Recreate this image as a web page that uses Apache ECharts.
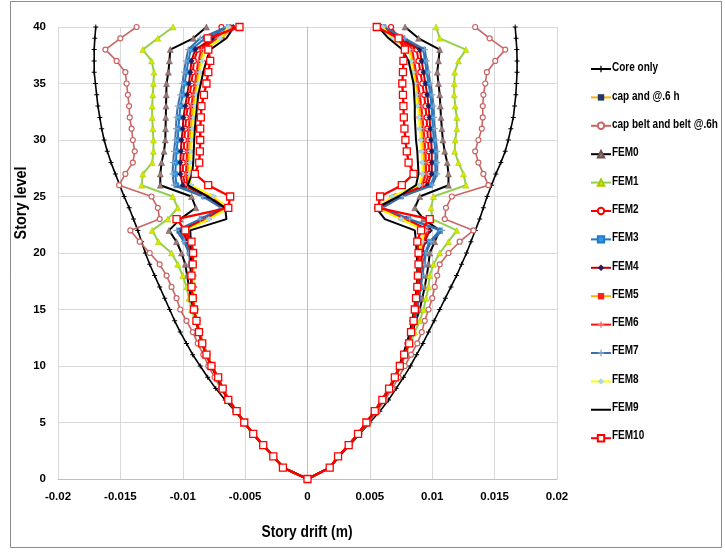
<!DOCTYPE html>
<html>
<head>
<meta charset="utf-8">
<script src="https://cdn.jsdelivr.net/npm/echarts@6/dist/echarts.min.js"></script>
<style>
  html, body { margin: 0; padding: 0; background: #fff; }
  #chart { width: 725px; height: 552px; }
</style>
</head>
<body>
<div id="chart"></div>
<script>
// Story levels 0..40
const levels = [0,1,2,3,4,5,6,7,8,9,10,11,12,13,14,15,16,17,18,19,20,21,22,23,24,25,26,27,28,29,30,31,32,33,34,35,36,37,38,39,40];
const xTicks = [-0.02,-0.015,-0.01,-0.005,0,0.005,0.01,0.015,0.02];
const yTicks = [0,5,10,15,20,25,30,35,40];

// Story drift magnitudes in mm (0.001 m), index = story level.
// "Neg" = drift toward negative side, "Pos" = drift toward positive side.
const coreOnlyNeg = [0,1.9,2.7,3.5,4.3,5.05,5.8,6.6,7.35,8.0,8.6,9.2,9.7,10.2,10.65,11.05,11.45,11.85,12.25,12.65,13.0,13.3,13.6,13.95,14.3,14.7,15.05,15.4,15.75,16.05,16.3,16.5,16.65,16.8,16.9,17.0,17.1,17.1,17.1,17.05,16.97];
const coreOnlyPos = [0,1.8,2.55,3.4,4.2,5.0,5.8,6.5,7.1,7.7,8.25,8.75,9.25,9.7,10.15,10.6,11.05,11.5,11.95,12.35,12.75,13.1,13.45,13.8,14.1,14.4,14.75,15.1,15.5,15.85,16.1,16.3,16.5,16.6,16.7,16.75,16.8,16.8,16.78,16.72,16.65];

const capAndNeg = [0,1.95,2.72,3.58,4.38,5.07,5.68,6.32,6.8,7.2,7.65,8.05,8.4,8.65,8.86,9.02,9.15,9.18,9.2,9.18,9.22,9.42,9.8,8.0,6.4,7.7,9.5,9.6,9.55,9.5,9.42,9.35,9.28,9.15,9.02,8.88,8.75,8.6,8.35,7.0,6.1];
const capAndPos = [0,1.78,2.48,3.3,4.05,4.72,5.39,6.0,6.54,7.0,7.4,7.74,8.03,8.26,8.44,8.6,8.72,8.82,8.87,8.95,9.05,9.25,9.5,7.6,5.65,6.9,9.1,9.4,9.38,9.32,9.25,9.18,9.1,9.0,8.88,8.75,8.6,8.45,8.3,7.0,6.0];

const capBeltNeg = [0,1.95,2.75,3.6,4.4,5.1,5.8,6.4,6.95,7.45,7.95,8.35,8.8,9.2,9.7,10.2,10.5,10.9,11.3,11.85,12.65,13.45,14.2,11.85,12.0,12.5,15.1,14.6,14.0,13.85,14.0,14.1,14.25,14.3,14.4,14.5,14.6,15.3,16.2,15.0,13.7];
const capBeltPos = [0,1.8,2.5,3.35,4.15,4.9,5.6,6.2,6.8,7.3,7.8,8.3,8.8,9.16,9.4,9.7,10.0,10.2,10.4,10.6,11.3,12.2,13.3,11.0,11.1,11.57,14.5,14.1,13.7,13.44,13.7,13.97,14.05,14.05,14.1,14.25,14.38,15.05,15.85,14.6,13.44];

const fem0Neg = [0,1.95,2.72,3.58,4.38,5.07,5.7,6.3,6.8,7.25,7.7,8.1,8.45,8.7,8.95,9.2,9.35,9.5,9.65,9.8,10.1,10.5,11.1,10.2,8.95,9.3,11.8,11.8,11.7,11.5,11.4,11.38,11.36,11.34,11.32,11.3,11.15,11.07,11.0,9.16,8.1];
const fem0Pos = [0,1.78,2.48,3.3,4.05,4.72,5.35,5.95,6.5,7.0,7.4,7.75,8.1,8.4,8.7,9.0,9.2,9.4,9.56,9.7,9.8,10.2,10.6,9.3,8.6,9.0,11.3,11.3,11.2,11.0,10.85,10.77,10.7,10.65,10.6,10.5,10.4,10.5,10.6,8.9,7.82];

const fem1Neg = [0,1.95,2.75,3.6,4.4,5.1,5.72,6.35,6.85,7.3,7.75,8.15,8.5,8.7,9.0,9.3,9.5,9.7,10.0,10.4,10.9,11.95,12.45,11.2,10.4,10.8,13.3,13.2,12.45,12.35,12.35,12.4,12.45,12.45,12.4,12.35,12.3,12.5,13.2,12.0,10.77];
const fem1Pos = [0,1.8,2.5,3.33,4.1,4.78,5.45,6.05,6.6,7.1,7.5,7.85,8.25,8.6,9.0,9.3,9.5,9.7,9.8,10.1,10.6,11.3,11.97,10.0,9.9,10.1,12.7,12.5,12.1,11.8,11.84,11.97,11.97,11.84,11.76,11.76,11.8,12.1,12.7,10.6,10.3];

const fem2Neg = [0,1.95,2.72,3.58,4.38,5.07,5.68,6.32,6.8,7.2,7.65,8.05,8.4,8.65,8.88,9.05,9.18,9.22,9.25,9.25,9.3,9.5,9.95,8.2,6.5,7.9,9.8,10.0,9.98,9.92,9.88,9.8,9.72,9.6,9.45,9.3,9.2,9.1,8.8,7.4,6.9];
const fem2Pos = [0,1.78,2.48,3.3,4.05,4.72,5.39,6.0,6.54,7.0,7.4,7.75,8.05,8.28,8.48,8.66,8.8,8.9,8.95,9.05,9.15,9.35,9.7,7.8,5.75,7.1,9.4,9.75,9.75,9.72,9.66,9.6,9.54,9.45,9.35,9.2,9.05,8.9,8.75,7.3,6.7];

const fem3Neg = [0,1.95,2.72,3.58,4.38,5.07,5.68,6.3,6.8,7.2,7.65,8.05,8.4,8.65,8.9,9.1,9.2,9.28,9.32,9.35,9.45,9.8,10.3,8.5,6.8,8.3,10.5,10.6,10.55,10.5,10.4,10.35,10.28,10.18,10.0,9.85,9.7,9.55,9.35,8.2,6.3];
const fem3Pos = [0,1.78,2.48,3.3,4.05,4.72,5.39,6.0,6.54,7.0,7.42,7.78,8.08,8.32,8.56,8.75,8.9,9.05,9.15,9.28,9.42,9.8,10.6,8.1,5.95,7.5,9.85,10.25,10.25,10.25,10.15,10.05,10.0,9.95,9.85,9.7,9.55,9.42,9.28,7.6,6.1];

const fem4Neg = [0,1.95,2.72,3.58,4.38,5.07,5.68,6.32,6.8,7.22,7.65,8.05,8.4,8.65,8.88,9.05,9.2,9.25,9.3,9.3,9.35,9.6,10.1,8.3,6.6,8.0,10.0,10.2,10.2,10.15,10.1,10.0,9.95,9.8,9.65,9.5,9.4,9.3,9.0,7.6,5.95];
const fem4Pos = [0,1.78,2.48,3.3,4.05,4.72,5.39,6.0,6.54,7.0,7.4,7.75,8.05,8.3,8.5,8.7,8.85,8.95,9.0,9.1,9.2,9.4,9.8,7.9,5.8,7.2,9.6,9.96,9.96,9.96,9.9,9.84,9.78,9.7,9.6,9.45,9.3,9.15,9.0,7.4,5.95];

const fem5Neg = [0,1.95,2.72,3.58,4.38,5.07,5.68,6.32,6.8,7.2,7.65,8.05,8.4,8.64,8.85,9.0,9.12,9.15,9.18,9.15,9.2,9.4,9.75,7.95,6.4,7.6,9.4,9.5,9.45,9.42,9.35,9.28,9.2,9.08,8.95,8.8,8.65,8.5,8.25,6.9,6.0];
const fem5Pos = [0,1.78,2.48,3.3,4.05,4.72,5.39,6.0,6.54,7.0,7.4,7.74,8.02,8.25,8.43,8.58,8.7,8.8,8.85,8.92,9.02,9.2,9.45,7.55,5.6,6.85,9.0,9.3,9.28,9.22,9.15,9.08,9.0,8.9,8.78,8.65,8.5,8.35,8.2,6.9,5.95];

const fem6Neg = [0,1.95,2.72,3.58,4.38,5.07,5.68,6.32,6.8,7.2,7.65,8.05,8.4,8.65,8.88,9.05,9.18,9.2,9.22,9.2,9.25,9.45,9.85,8.1,6.45,7.8,9.6,9.75,9.7,9.65,9.6,9.52,9.45,9.32,9.18,9.02,8.9,8.75,8.5,7.2,6.2];
const fem6Pos = [0,1.78,2.48,3.3,4.05,4.72,5.39,6.0,6.54,7.0,7.4,7.75,8.05,8.28,8.46,8.62,8.75,8.85,8.9,8.98,9.08,9.3,9.6,7.7,5.7,7.0,9.2,9.5,9.5,9.45,9.38,9.3,9.22,9.12,9.0,8.85,8.7,8.55,8.4,7.1,6.1];

const fem7Neg = [0,1.95,2.72,3.58,4.38,5.07,5.68,6.3,6.78,7.2,7.65,8.05,8.4,8.65,8.9,9.1,9.2,9.3,9.35,9.4,9.5,9.9,10.5,8.6,6.9,8.4,10.7,10.82,10.77,10.7,10.6,10.55,10.5,10.4,10.2,10.02,9.9,9.75,9.56,8.6,6.5];
const fem7Pos = [0,1.78,2.48,3.3,4.05,4.72,5.39,6.0,6.54,7.0,7.42,7.8,8.1,8.35,8.6,8.8,8.95,9.1,9.2,9.35,9.5,9.9,10.8,8.2,6.0,7.6,10.0,10.4,10.4,10.4,10.3,10.2,10.15,10.1,10.0,9.85,9.7,9.55,9.4,7.8,6.2];

const fem8Neg = [0,1.95,2.72,3.58,4.38,5.07,5.68,6.32,6.8,7.2,7.65,8.05,8.4,8.64,8.84,9.0,9.1,9.14,9.16,9.14,9.18,9.35,9.7,7.9,6.35,7.55,9.35,9.45,9.4,9.35,9.28,9.2,9.12,9.02,8.9,8.75,8.6,8.45,8.2,7.0,6.35];
const fem8Pos = [0,1.78,2.48,3.3,4.05,4.72,5.39,6.0,6.54,7.0,7.4,7.73,8.0,8.23,8.42,8.56,8.68,8.78,8.83,8.9,9.0,9.18,9.4,7.5,5.6,6.8,8.95,9.22,9.2,9.15,9.08,9.0,8.92,8.82,8.7,8.58,8.45,8.3,8.1,6.8,6.0];

const fem9Neg = [0,1.95,2.72,3.58,4.38,5.07,5.7,6.35,6.85,7.25,7.7,8.1,8.45,8.7,8.92,9.1,9.2,9.3,9.35,9.35,9.3,9.35,9.4,6.5,6.6,8.0,9.6,9.25,9.16,9.12,9.08,9.03,8.95,8.85,8.76,8.55,8.36,8.1,7.8,6.5,5.9];
const fem9Pos = [0,1.78,2.5,3.32,4.08,4.75,5.42,6.05,6.6,7.05,7.35,7.65,7.95,8.2,8.4,8.55,8.65,8.75,8.8,8.8,8.75,8.7,8.6,6.2,5.5,7.3,8.7,8.9,8.85,8.8,8.7,8.65,8.6,8.6,8.55,8.5,8.3,8.1,7.6,6.5,5.68];

const fem10Neg = [0,1.97,2.74,3.55,4.35,5.07,5.68,6.35,6.8,7.16,7.7,8.1,8.44,8.7,8.9,9.1,9.2,9.3,9.3,9.2,9.17,9.3,9.8,10.5,6.35,6.2,7.96,9.03,8.68,8.63,8.6,8.6,8.55,8.5,8.3,8.1,7.95,7.8,7.95,8.0,5.45];
const fem10Pos = [0,1.78,2.45,3.3,4.05,4.72,5.39,6.0,6.54,7.0,7.4,7.75,8.15,8.3,8.5,8.6,8.7,8.8,8.85,8.9,8.9,8.8,9.1,9.8,5.68,5.82,7.56,8.5,8.1,7.96,7.85,7.77,7.72,7.69,7.65,7.6,7.65,7.69,7.8,7.3,5.55];

const seriesNames = ['Core only','cap and @.6 h','cap belt and belt @.6h','FEM0','FEM1','FEM2','FEM3','FEM4','FEM5','FEM6','FEM7','FEM8','FEM9','FEM10'];

// Marker shapes: small plus and short horizontal dash
const plusPath = 'path://M4,0H6V4H10V6H6V10H4V6H0V4H4Z';
const dashPath = 'path://M0,0H10V3H0Z';
// Plain line swatch (tiny corner dots keep the 20x8 box so the bar stays thin)
const plainLineIcon = 'path://M0,0H0.01V0.01H0Z M0,3H20V5H0Z M19.99,7.99H20V8H19.99Z';

// Each profile runs from the top of the negative side down to the base and back up the positive side.
function profile(neg, pos) {
  const pts = [];
  for (let i = levels.length - 1; i >= 0; i--) pts.push([-neg[i] / 1000, levels[i]]);
  for (let i = 1; i < levels.length; i++) pts.push([pos[i] / 1000, levels[i]]);
  return pts;
}

const styles = [
  { neg: coreOnlyNeg, pos: coreOnlyPos, line: '#000000', width: 1.6, symbol: plusPath, size: 5, fill: '#000000', border: '#000000', bw: 0 },
  { neg: capAndNeg, pos: capAndPos, line: '#FFB000', width: 2, symbol: 'rect', size: 4, fill: '#1F3864', border: '#1F3864', bw: 0 },
  { neg: capBeltNeg, pos: capBeltPos, line: '#C96565', width: 1.6, symbol: 'circle', size: 5, fill: '#ffffff', border: '#C96565', bw: 1.2 },
  { neg: fem0Neg, pos: fem0Pos, line: '#000000', width: 2, symbol: 'triangle', size: 6, fill: '#9A7A7A', border: '#6E5050', bw: 0.5 },
  { neg: fem1Neg, pos: fem1Pos, line: '#92D050', width: 2, symbol: 'triangle', size: 6, fill: '#D4E800', border: '#A8C800', bw: 0.5 },
  { neg: fem2Neg, pos: fem2Pos, line: '#FF0000', width: 2, symbol: 'circle', size: 5, fill: '#ffffff', border: '#FF0000', bw: 1.2 },
  { neg: fem3Neg, pos: fem3Pos, line: '#1F78C8', width: 2, symbol: 'rect', size: 5, fill: '#2E9BE0', border: '#1F78C8', bw: 0.5 },
  { neg: fem4Neg, pos: fem4Pos, line: '#C00000', width: 2, symbol: 'diamond', size: 6, fill: '#1F1F5E', border: '#1F1F5E', bw: 0 },
  { neg: fem5Neg, pos: fem5Pos, line: '#FFB000', width: 2, symbol: dashPath, size: [7, 2], fill: '#FF2020', border: '#FF2020', bw: 0 },
  { neg: fem6Neg, pos: fem6Pos, line: '#FF1010', width: 2, symbol: plusPath, size: 6, fill: '#FF6060', border: '#FF6060', bw: 0 },
  { neg: fem7Neg, pos: fem7Pos, line: '#3A6EA5', width: 2, symbol: plusPath, size: 6, fill: '#7FA6CF', border: '#7FA6CF', bw: 0 },
  { neg: fem8Neg, pos: fem8Pos, line: '#FFFF00', width: 2, symbol: 'diamond', size: 6, fill: '#A9D8E0', border: '#A9D8E0', bw: 0 },
  { neg: fem9Neg, pos: fem9Pos, line: '#000000', width: 2, symbol: 'circle', size: 0, fill: '#000000', border: '#000000', bw: 0, noMarks: true },
  { neg: fem10Neg, pos: fem10Pos, line: '#FF0000', width: 2.4, symbol: 'rect', size: 7, fill: '#ffffff', border: '#FF0000', bw: 1.3 }
];

const labelFont = "'Liberation Sans', Arial, sans-serif";

const series = styles.map((s, i) => ({
  name: seriesNames[i],
  type: 'line',
  data: profile(s.neg, s.pos),
  symbol: s.symbol,
  symbolSize: s.size,
  showSymbol: !s.noMarks,
  lineStyle: { color: s.line, width: s.width },
  itemStyle: { color: s.fill, borderColor: s.border, borderWidth: s.bw },
  emphasis: { disabled: true },
  animation: false,
  z: 2 + i
}));

const legendData = seriesNames.map((name, i) =>
  styles[i].noMarks ? { name: name, icon: plainLineIcon, itemStyle: { color: styles[i].line } } : { name: name });

// Legend entry positions (item centres)
const legendTop = 68;
const legendStep = 28.3;

const legendTexts = seriesNames.map((name, i) => ({
  type: 'text', silent: true,
  x: 612, y: legendTop + i * legendStep,
  scaleX: 0.8,
  style: { text: name, fontFamily: labelFont, fontWeight: 'bold', fontSize: 12.5, fill: '#000', align: 'left', verticalAlign: 'middle' }
}));

const chart = echarts.init(document.getElementById('chart'), null, { renderer: 'canvas' });
chart.setOption({
  backgroundColor: '#ffffff',
  animation: false,
  grid: { left: 58, right: 168, top: 27, bottom: 73 },
  xAxis: {
    type: 'value',
    min: xTicks[0],
    max: xTicks[xTicks.length - 1],
    interval: 0.005,
    axisLine: { show: true, onZero: false, lineStyle: { color: '#BFBFBF', width: 1 } },
    axisTick: { show: false },
    splitLine: { show: true, lineStyle: { color: '#D9D9D9', width: 1 } },
    axisLabel: {
      margin: 12,
      fontFamily: labelFont, fontWeight: 'bold', fontSize: 11.5, color: '#000',
      formatter: v => String(Math.round(v * 1000) / 1000)
    }
  },
  yAxis: {
    type: 'value',
    min: yTicks[0],
    max: yTicks[yTicks.length - 1],
    interval: 5,
    axisLine: { show: true, lineStyle: { color: '#BFBFBF', width: 1 } },
    axisTick: { show: false },
    splitLine: { show: true, lineStyle: { color: '#D9D9D9', width: 1 } },
    axisLabel: { margin: 12, fontFamily: labelFont, fontWeight: 'bold', fontSize: 11.5, color: '#000' }
  },
  legend: {
    data: legendData,
    orient: 'vertical',
    left: 585,
    top: 58,
    itemWidth: 20,
    itemHeight: 8,
    itemGap: 16.4,
    selectedMode: false,
    // label text is drawn narrower by the graphic layer below
    textStyle: { fontFamily: labelFont, fontWeight: 'bold', fontSize: 12, color: 'rgba(0,0,0,0)', width: 80 }
  },
  graphic: [
    { type: 'rect', silent: true, shape: { x: 10.5, y: 1.5, width: 711, height: 546 }, style: { fill: 'none', stroke: '#8C8C8C', lineWidth: 1 }, z: -1 },
    { type: 'text', silent: true, x: 22, y: 203, rotation: Math.PI / 2, scaleX: 0.9,
      style: { text: 'Story level', fontFamily: labelFont, fontWeight: 'bold', fontSize: 16, fill: '#000', align: 'center', verticalAlign: 'middle' } },
    { type: 'text', silent: true, x: 307, y: 533, scaleX: 0.86,
      style: { text: 'Story drift (m)', fontFamily: labelFont, fontWeight: 'bold', fontSize: 16, fill: '#000', align: 'center', verticalAlign: 'middle' } }
  ].concat(legendTexts),
  series: series
});
</script>
</body>
</html>
